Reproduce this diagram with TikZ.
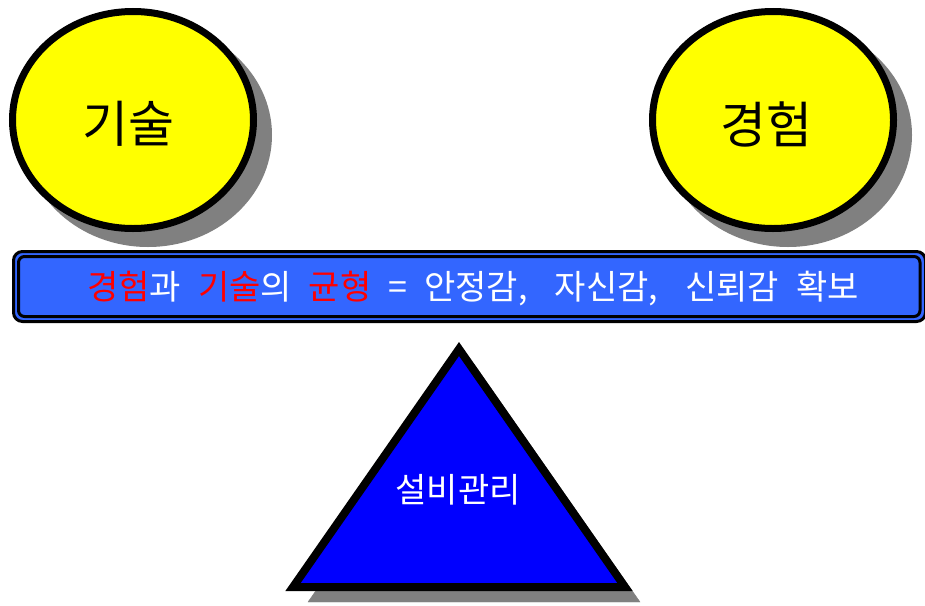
\documentclass[tikz,border=0pt]{standalone}
\usepackage{fontspec}
\setmainfont{Noto Sans CJK KR}
\usetikzlibrary{shapes.geometric}
\definecolor{shadowgray}{RGB}{128,128,128}
\definecolor{barblue}{RGB}{51,102,255}
\definecolor{triblue}{RGB}{0,0,255}
\definecolor{circyellow}{RGB}{255,255,0}
\definecolor{keyred}{RGB}{255,0,0}
\tikzset{
  shadowed/.style={preaction={draw=shadowgray, fill=shadowgray, transform canvas={shift={(15pt,-15pt)}}}},
  circlebox/.style={ellipse, draw=black, line width=7pt, fill=circyellow, shadowed,
    minimum width=241pt, minimum height=217pt, inner sep=0pt},
  circletext/.style={text=black, font=\fontsize{50}{60}\selectfont},
  baroutline/.style={draw=black, line width=3pt, rounded corners=9pt},
  bartext/.style={text=white, font=\fontsize{34}{40}\selectfont},
  trishape/.style={draw=black, line width=8pt, fill=triblue, line join=miter},
  tritext/.style={text=white, font=\fontsize{34}{40}\selectfont},
}
\begin{document}
\begin{tikzpicture}[x=1pt,y=-1pt]
  \useasboundingbox (0,0) rectangle (925,605);
  % circles
  \node[circlebox] (skill) at (133,120) {};
  \node[circletext] (skilltxt) at (128,124) {기술};
  \node[circlebox] (exp) at (773,120) {};
  \node[circletext] (exptxt) at (766,124) {경험};
  % bar
  \draw[baroutline, fill=barblue] (13.5,251.5) rectangle (925.5,321.5);
  \draw[baroutline, rounded corners=6pt] (18.5,256.5) rectangle (920,316.5);
  \node[bartext] (bartxt) at (473,289)
    {\spaceskip=0.5em\relax\textcolor{keyred}{경험}과 \textcolor{keyred}{기술}의 \textcolor{keyred}{균형} = 안정감,\hspace{0.3em} 자신감,\hspace{0.3em} 신뢰감 확보};
  % triangle
  \draw[trishape, shadowed] (459,349) -- (625,587) -- (293,587) -- cycle;
  \node[tritext] (mgmt) at (458,490) {설비관리};
\end{tikzpicture}
\end{document}
